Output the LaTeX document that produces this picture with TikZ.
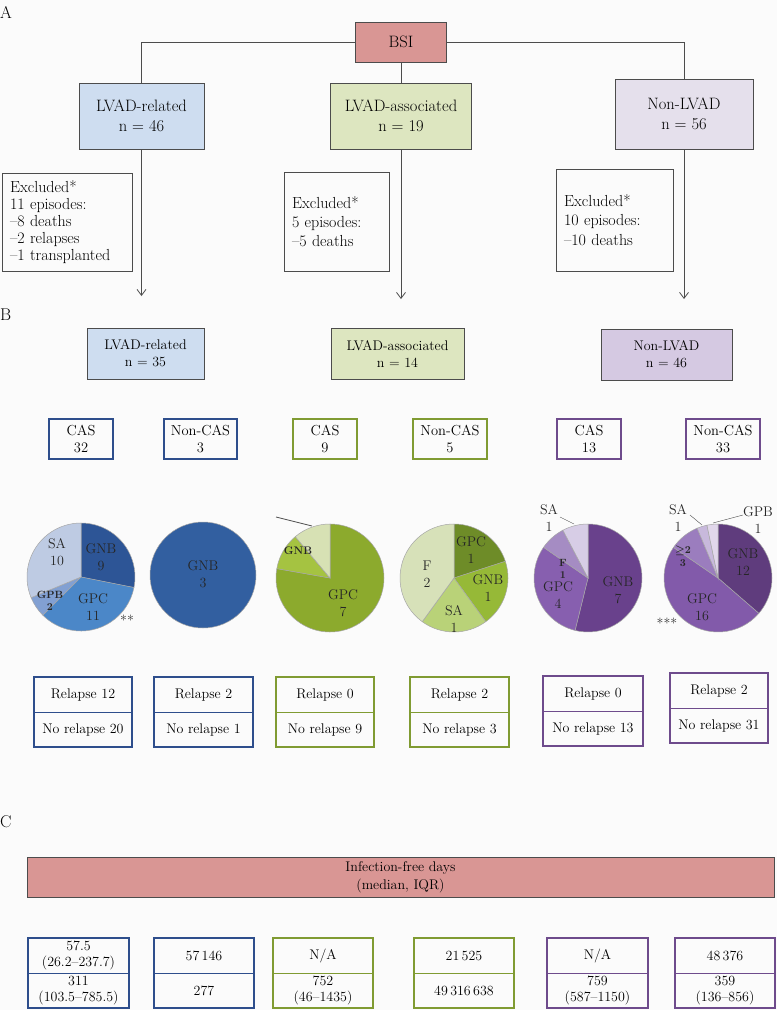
\documentclass[tikz,border=0pt]{standalone}
\usepackage{tikz}
\usepackage{amsmath}
\usepackage{amssymb}
\usepackage{xcolor}
\usetikzlibrary{positioning}
\usetikzlibrary{calc}
\usetikzlibrary{arrows.meta}
\tikzset{wedgeedge/.style={draw=white!65!black, line width=0.5pt}}
\definecolor{mred}{RGB}{217,150,148}
\definecolor{mblue}{RGB}{46,78,140}
\definecolor{mgreen}{RGB}{128,155,50}
\definecolor{mpurple}{RGB}{110,75,140}
\definecolor{relfill}{RGB}{206,221,240}
\definecolor{assocfill}{RGB}{221,230,192}
\definecolor{nonfill}{RGB}{229,224,236}
\definecolor{nonfillb}{RGB}{213,201,226}
% pie colours
\definecolor{blueA}{RGB}{45,85,150}
\definecolor{blueB}{RGB}{75,135,200}
\definecolor{blueC}{RGB}{130,160,210}
\definecolor{blueD}{RGB}{190,203,227}
\definecolor{blueE}{RGB}{50,95,160}
\definecolor{greenA}{RGB}{140,170,45}
\definecolor{greenB}{RGB}{165,195,65}
\definecolor{greenC}{RGB}{215,225,180}
\definecolor{greenD}{RGB}{110,140,40}
\definecolor{greenE}{RGB}{150,185,55}
\definecolor{greenF}{RGB}{185,210,120}
\definecolor{greenG}{RGB}{215,225,185}
\definecolor{purpA}{RGB}{105,65,140}
\definecolor{purpB}{RGB}{135,95,175}
\definecolor{purpC}{RGB}{165,140,195}
\definecolor{purpD}{RGB}{215,205,230}
\definecolor{purpE}{RGB}{95,60,125}
\definecolor{purpF}{RGB}{130,90,170}
\definecolor{purpG}{RGB}{155,125,190}
\definecolor{purpH}{RGB}{200,185,220}
\definecolor{purpI}{RGB}{225,215,235}
\newcommand{\pieslice}[4]{\filldraw[wedgeedge, fill=#4] (#1) -- ++(#2:54) arc[start angle=#2, end angle=#3, radius=54] -- cycle;}

\begin{document}
\begin{tikzpicture}[x=1pt, y=-1pt,
    catbox/.style={draw=black!70, thick, align=center, font=\fontsize{16.5}{20}\selectfont},
    excl/.style={draw=black!70, thick, align=left, inner xsep=8pt, font=\fontsize{16}{17}\selectfont},
    catboxb/.style={catbox, minimum height=51, font=\fontsize{14}{17}\selectfont},
    cas/.style={draw=#1, line width=2.4pt, align=center, minimum height=40, inner sep=0pt, font=\fontsize{14.5}{17}\selectfont},
    half/.style={draw=#1, line width=1pt, minimum height=35, inner sep=0pt, outer sep=0pt, align=center, font=\fontsize{14}{16}\selectfont},
    boxedge/.style={draw=#1, line width=2.4pt},
    lbl/.style={font=\fontsize{14}{17}\selectfont, align=center, text=black!85},
    sml/.style={font=\bfseries\fontsize{10.5}{12.5}\selectfont, align=center, text=black!85},
    panel/.style={font=\fontsize{17}{17}\selectfont, anchor=west, inner sep=0pt},
    link/.style={draw=black!70, thick},
    arrow/.style={link, -{Straight Barb[length=6pt, width=9pt]}},
]
\useasboundingbox (0,0) rectangle (777,1010);
\fill[white!98.5!black] (0,0) rectangle (777,1010);

% A
\node[panel] (pa) at (0,12) {A};
\node[catbox, fill=mred, minimum width=91, minimum height=40] (bsi) at (401,42) {BSI};
\node[catbox, fill=relfill, minimum width=125, minimum height=66] (rel) at (141.5,116) {LVAD-related\\n = 46};
\node[catbox, fill=assocfill, minimum width=141, minimum height=66] (assoc) at (401,116) {LVAD-associated\\n = 19};
\node[catbox, fill=nonfill, minimum width=138, minimum height=70] (non) at (684,114) {Non-LVAD\\n = 56};

\draw[link] (bsi.west) -| (rel.north);
\draw[link] (bsi.east) -| (non.north);
\draw[link] (bsi.south) -- (assoc.north);

\node[excl, minimum height=98, text width=114] (ex1) at (67,222) {Excluded*\\11 episodes:\\--8 deaths\\--2 relapses\\--1 transplanted};
\node[excl, minimum height=99, text width=89, font=\fontsize{16}{19}\selectfont] (ex2) at (336.5,221.5) {Excluded*\\5 episodes:\\--5 deaths};
\node[excl, minimum height=102, text width=101, font=\fontsize{16}{19.5}\selectfont] (ex3) at (614.5,220) {Excluded*\\10 episodes:\\--10 deaths};

\coordinate (relend) at (141.5,296);
\coordinate (assocend) at (401,299);
\coordinate (nonend) at (684,299);
\draw[arrow] (rel.south) -- (relend);
\draw[arrow] (assoc.south) -- (assocend);
\draw[arrow] (non.south) -- (nonend);

% B
\node[panel] (pb) at (0,315) {B};
\node[catboxb, fill=relfill, minimum width=117] (relb) at (145.5,353.5) {LVAD-related\\n = 35};
\node[catboxb, fill=assocfill, minimum width=133] (assocb) at (397.5,353.5) {LVAD-associated\\n = 14};
\node[catboxb, fill=nonfillb, minimum width=131] (nonb) at (666.5,354.5) {Non-LVAD\\n = 46};

\node[cas=mblue, minimum width=64] (cas1) at (81,439) {CAS\\32};
\node[cas=mblue, minimum width=73] (ncas1) at (200.5,439) {Non-CAS\\3};
\node[cas=mgreen, minimum width=64] (cas2) at (325,439) {CAS\\9};
\node[cas=mgreen, minimum width=74] (ncas2) at (450,439) {Non-CAS\\5};
\node[cas=mpurple, minimum width=64] (cas3) at (589,439) {CAS\\13};
\node[cas=mpurple, minimum width=74] (ncas3) at (723,439) {Non-CAS\\33};

% pies
\coordinate (pie1) at (81,577);
\pieslice{pie1}{-90}{11.25}{blueA}
\pieslice{pie1}{11.25}{135}{blueB}
\pieslice{pie1}{135}{157.5}{blueC}
\pieslice{pie1}{157.5}{270}{blueD}
\node[lbl] (sa1) at (57,552) {SA\\10};
\node[lbl] (gnb1) at (101,557) {GNB\\9};
\node[lbl] (gpc1) at (93,607) {GPC\\11};
\node[sml] (gpb1) at (50,601) {GPB\\2};
\node[lbl] (star1) at (127,620) {**};

\coordinate (pie2) at (203,575);
\filldraw[wedgeedge, fill=blueE] (pie2) circle[radius=53];
\node[lbl] (gnb2) at (203,574) {GNB\\3};

\coordinate (pie3) at (330,578);
\pieslice{pie3}{-90}{190}{greenA}
\pieslice{pie3}{190}{230}{greenB}
\pieslice{pie3}{230}{270}{greenC}
\node[sml, font=\bfseries\fontsize{11}{12}\selectfont] (gnb3) at (298,551) {GNB};
\node[lbl] (gpc3) at (343,603) {GPC\\7};
\coordinate (lead3a) at (312,526);
\coordinate (lead3b) at (276,517);
\draw[link] (lead3a) -- (lead3b);

\coordinate (pie4) at (454,578);
\pieslice{pie4}{-90}{-18}{greenD}
\pieslice{pie4}{-18}{54}{greenE}
\pieslice{pie4}{54}{126}{greenF}
\pieslice{pie4}{126}{270}{greenG}
\node[lbl] (gpc4) at (471,550) {GPC\\1};
\node[lbl] (gnb4) at (488,588) {GNB\\1};
\node[lbl] (sa4) at (454,619) {SA\\1};
\node[lbl] (f4) at (427,574) {F\\2};

\coordinate (pie5) at (588,578);
\pieslice{pie5}{-90}{103.85}{purpA}
\pieslice{pie5}{103.85}{214.6}{purpB}
\pieslice{pie5}{214.6}{242.3}{purpC}
\pieslice{pie5}{242.3}{270}{purpD}
\node[lbl] (gnb5) at (618,590) {GNB\\7};
\node[lbl] (gpc5) at (558,595) {GPC\\4};
\node[sml] (f5) at (563,569) {F\\1};
\node[lbl] (sa5) at (549,518) {SA\\1};
\coordinate (lead5a) at (560,517);
\coordinate (lead5b) at (574,524);
\draw[link, thin] (lead5a) -- (lead5b);

\coordinate (pie6) at (718,578);
\pieslice{pie6}{-90}{40.9}{purpE}
\pieslice{pie6}{40.9}{214.5}{purpF}
\pieslice{pie6}{214.5}{247.3}{purpG}
\pieslice{pie6}{247.3}{258.2}{purpH}
\pieslice{pie6}{258.2}{270}{purpI}
\node[lbl] (gnb6) at (743,562) {GNB\\12};
\node[lbl] (gpc6) at (702,607) {GPC\\16};
\node[sml] (ge6) at (683,556) {$\boldsymbol{\geq}$2\\3};
\node[lbl] (sa6) at (678,518) {SA\\1};
\node[lbl] (gpb6) at (758,520) {GPB\\1};
\node[lbl] (star6) at (667,623) {***};
\coordinate (lead6a) at (690,515);
\coordinate (lead6b) at (702,525);
\coordinate (lead6c) at (743,515);
\coordinate (lead6d) at (713,523);
\draw[link, thin] (lead6a) -- (lead6b);
\draw[link, thin] (lead6c) -- (lead6d);

% relapse
\node[half=mblue, minimum width=98] (rl1) at (83,694.5) {Relapse 12};
\node[half=mblue, minimum width=98, below=0pt of rl1] (nr1) {No relapse 20};
\draw[boxedge=mblue] (rl1.north west) rectangle (nr1.south east);
\node[half=mblue, minimum width=99] (rl2) at (203.5,694.5) {Relapse 2};
\node[half=mblue, minimum width=99, below=0pt of rl2] (nr2) {No relapse 1};
\draw[boxedge=mblue] (rl2.north west) rectangle (nr2.south east);
\node[half=mgreen, minimum width=98] (rl3) at (325,694.5) {Relapse 0};
\node[half=mgreen, minimum width=98, below=0pt of rl3] (nr3) {No relapse 9};
\draw[boxedge=mgreen] (rl3.north west) rectangle (nr3.south east);
\node[half=mgreen, minimum width=99] (rl4) at (459.5,694.5) {Relapse 2};
\node[half=mgreen, minimum width=99, below=0pt of rl4] (nr4) {No relapse 3};
\draw[boxedge=mgreen] (rl4.north west) rectangle (nr4.south east);
\node[half=mpurple, minimum width=100] (rl5) at (593,693.5) {Relapse 0};
\node[half=mpurple, minimum width=100, below=0pt of rl5] (nr5) {No relapse 13};
\draw[boxedge=mpurple] (rl5.north west) rectangle (nr5.south east);
\node[half=mpurple, minimum width=98] (rl6) at (719,690.5) {Relapse 2};
\node[half=mpurple, minimum width=98, below=0pt of rl6] (nr6) {No relapse 31};
\draw[boxedge=mpurple] (rl6.north west) rectangle (nr6.south east);

% C
\node[panel] (pc) at (0,822) {C};
\node[catbox, fill=mred, minimum width=747, minimum height=40, font=\fontsize{14}{18}\selectfont] (ifd) at (400.5,877) {Infection-free days\\(median, IQR)};

\node[half=mblue, minimum width=101] (md1) at (78.5,955.5) {57.5\\(26.2--237.7)};
\node[half=mblue, minimum width=101, below=0pt of md1] (iq1) {311\\(103.5--785.5)};
\draw[boxedge=mblue] (md1.north west) rectangle (iq1.south east);
\node[half=mblue, minimum width=100] (md2) at (204,955.5) {57\,146};
\node[half=mblue, minimum width=100, below=0pt of md2] (iq2) {277};
\draw[boxedge=mblue] (md2.north west) rectangle (iq2.south east);
\node[half=mgreen, minimum width=100] (md3) at (323,955.5) {N/A};
\node[half=mgreen, minimum width=100, below=0pt of md3] (iq3) {752\\(46--1435)};
\draw[boxedge=mgreen] (md3.north west) rectangle (iq3.south east);
\node[half=mgreen, minimum width=100] (md4) at (464,955.5) {21\,525};
\node[half=mgreen, minimum width=100, below=0pt of md4] (iq4) {49\,316\,638};
\draw[boxedge=mgreen] (md4.north west) rectangle (iq4.south east);
\node[half=mpurple, minimum width=101] (md5) at (597.5,955.5) {N/A};
\node[half=mpurple, minimum width=101, below=0pt of md5] (iq5) {759\\(587--1150)};
\draw[boxedge=mpurple] (md5.north west) rectangle (iq5.south east);
\node[half=mpurple, minimum width=100] (md6) at (725,955.5) {48\,376};
\node[half=mpurple, minimum width=100, below=0pt of md6] (iq6) {359\\(136--856)};
\draw[boxedge=mpurple] (md6.north west) rectangle (iq6.south east);

\end{tikzpicture}
\end{document}
